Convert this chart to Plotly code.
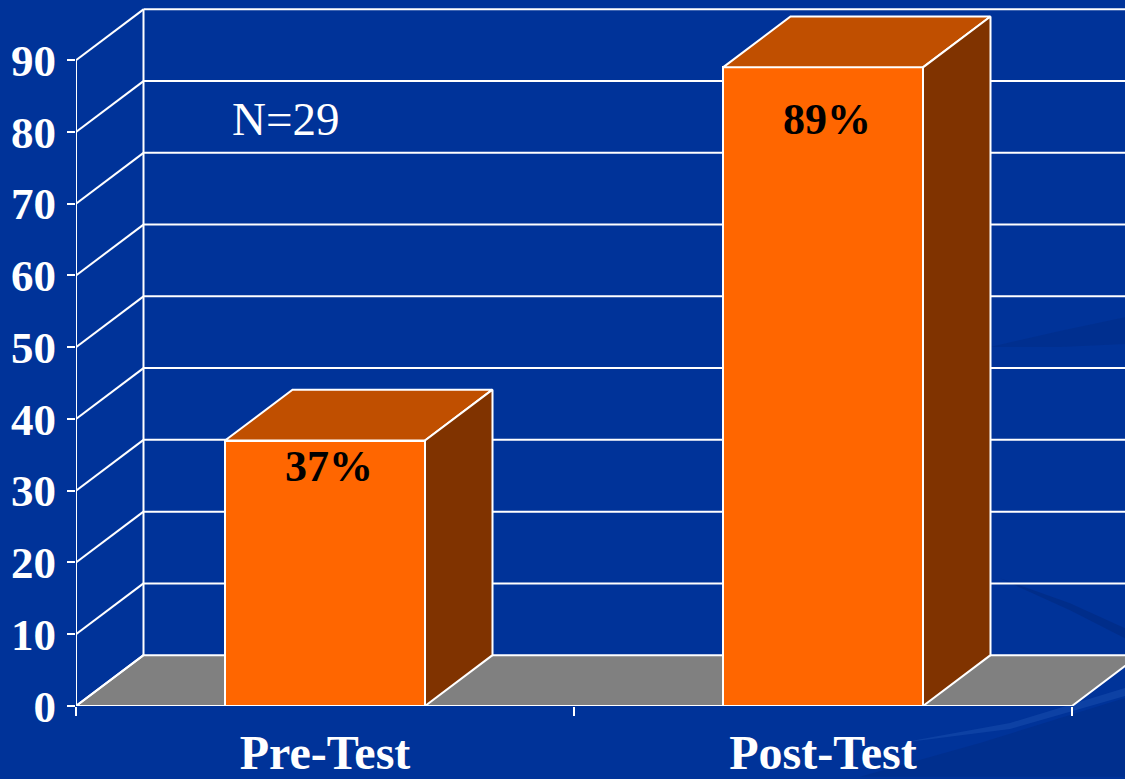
import plotly.graph_objects as go

# ---------------- data ----------------
categories = ["Pre-Test", "Post-Test"]
values = [37, 89]
y_ticks = [0, 10, 20, 30, 40, 50, 60, 70, 80, 90]
annotation_n = "N=29"

# ---------------- geometry / style ----------------
W, H = 1125, 779
ML, MB, MT, MR = 76, 71, 0, 0
PX_X = 498.0          # pixels per category unit
PX_Y = 7.196          # pixels per value unit
PLOT_W = W - ML - MR
PLOT_H = H - MB - MT
X0, X1 = -0.5, -0.5 + PLOT_W / PX_X
Y0, Y1 = 0, PLOT_H / PX_Y
DX = 67.5 / PX_X       # depth offset (x)
DY = 51.0 / PX_Y       # depth offset (y)
BW = 200.0 / PX_X      # bar width
YMAX = 90

BG = "#003399"
FRONT = "#FF6600"
TOP = "#C04F00"
SIDE = "#803300"
FLOOR = "#808080"
SERIF = "Liberation Serif, Times New Roman, serif"

fig = go.Figure()
shapes = []

# background swooshes (paper coordinates from pixels)
def px(xp):
    return (xp - ML) / PLOT_W
def py(yp):
    return (H - MB - yp) / PLOT_H

def path(points):
    s = "M " + " L ".join(f"{px(a):.4f},{py(b):.4f}" for a, b in points) + " Z"
    return s

shapes.append(dict(type="path", xref="paper", yref="paper", layer="below",
                   path=path([(990, 348), (1060, 332), (1125, 318), (1125, 345), (1060, 348)]),
                   fillcolor="#002a80", opacity=0.4, line=dict(width=0)))
shapes.append(dict(type="path", xref="paper", yref="paper", layer="below",
                   path=path([(1000, 580), (1070, 605), (1125, 630), (1125, 640), (1070, 612)]),
                   fillcolor="#002a80", opacity=0.6, line=dict(width=0)))
shapes.append(dict(type="path", xref="paper", yref="paper", layer="below",
                   path=path([(860, 779), (980, 745), (1125, 700), (1125, 779)]),
                   fillcolor="#002c85", opacity=0.55, line=dict(width=0)))
shapes.append(dict(type="path", xref="paper", yref="paper", layer="below",
                   path=path([(900, 745), (1010, 725), (1125, 690), (1125, 698), (1010, 731)]),
                   fillcolor="#1a4fb0", opacity=0.5, line=dict(width=0)))

# floor
shapes.append(dict(type="path", xref="x", yref="y", layer="below",
                   path=(f"M {X0},0 L 1.5,0 L {1.5 + DX},{DY} L {X0 + DX},{DY} Z"),
                   fillcolor=FLOOR, line=dict(color="white", width=2)))
# back wall grid lines and left wall diagonals
for t in y_ticks:
    if t > 0:
        shapes.append(dict(type="line", xref="x", yref="y", layer="below",
                           x0=X0 + DX, x1=X1 + 0.2, y0=t + DY, y1=t + DY,
                           line=dict(color="white", width=2)))
    shapes.append(dict(type="line", xref="x", yref="y", layer="below",
                       x0=X0, x1=X0 + DX, y0=t, y1=t + DY,
                       line=dict(color="white", width=2)))
# back wall left edge
shapes.append(dict(type="line", xref="x", yref="y", layer="below",
                   x0=X0 + DX, x1=X0 + DX, y0=DY, y1=YMAX + DY,
                   line=dict(color="white", width=2)))

# front faces of bars
fig.add_trace(go.Bar(x=list(range(len(categories))), y=values, width=BW,
                     marker=dict(color=FRONT, line=dict(color="white", width=2)),
                     hoverinfo="skip", showlegend=False))

# top and side faces
for i, v in enumerate(values):
    xl, xr = i - BW / 2, i + BW / 2
    fig.add_trace(go.Scatter(x=[xl, xr, xr + DX, xl + DX, xl],
                             y=[v, v, v + DY, v + DY, v],
                             fill="toself", fillcolor=TOP, mode="lines",
                             line=dict(color="white", width=2),
                             hoverinfo="skip", showlegend=False))
    fig.add_trace(go.Scatter(x=[xr, xr + DX, xr + DX, xr, xr],
                             y=[0, DY, v + DY, v, 0],
                             fill="toself", fillcolor=SIDE, mode="lines",
                             line=dict(color="white", width=2),
                             hoverinfo="skip", showlegend=False))

# front axis lines
fig.add_trace(go.Scatter(x=[X0, X0], y=[0, YMAX], mode="lines",
                         line=dict(color="white", width=2), cliponaxis=False,
                         hoverinfo="skip", showlegend=False))
fig.add_trace(go.Scatter(x=[X0, 1.5], y=[0, 0], mode="lines",
                         line=dict(color="white", width=2), cliponaxis=False,
                         hoverinfo="skip", showlegend=False))

# labels on bars
label_yshift = [-26, -52]
annotations = []
for i, v in enumerate(values):
    annotations.append(dict(x=i, y=v, xref="x", yref="y", text=f"<b>{v}%</b>",
                            showarrow=False, xshift=4, yshift=label_yshift[i],
                            xanchor="center", yanchor="middle",
                            font=dict(family=SERIF, size=44, color="black")))
annotations.append(dict(x=px(285), y=py(119), xref="paper", yref="paper",
                        text=annotation_n, showarrow=False,
                        xanchor="center", yanchor="middle",
                        font=dict(family=SERIF, size=47, color="white")))

fig.update_layout(
    width=W, height=H,
    margin=dict(l=ML, r=MR, t=MT, b=MB, pad=0),
    paper_bgcolor=BG, plot_bgcolor="rgba(0,0,0,0)",
    shapes=shapes, annotations=annotations,
    bargap=0,
    xaxis=dict(range=[X0, X1], showgrid=False, zeroline=False, showline=False,
               tickvals=list(range(len(categories))), ticktext=categories,
               ticks="", ticklabelstandoff=14,
               tickfont=dict(family=SERIF, size=48, color="white", weight="bold"),
               minor=dict(tickvals=[-0.5, 0.5, 1.5], ticks="outside", ticklen=9,
                          tickwidth=2, tickcolor="white", showgrid=False)),
    yaxis=dict(range=[Y0, Y1], showgrid=False, zeroline=False, showline=False,
               tickvals=y_ticks, ticks="outside", ticklen=8, tickwidth=2,
               tickcolor="white", ticklabelstandoff=2,
               tickfont=dict(family=SERIF, size=45, color="white", weight="bold")),
)

fig.write_html("out.html")
